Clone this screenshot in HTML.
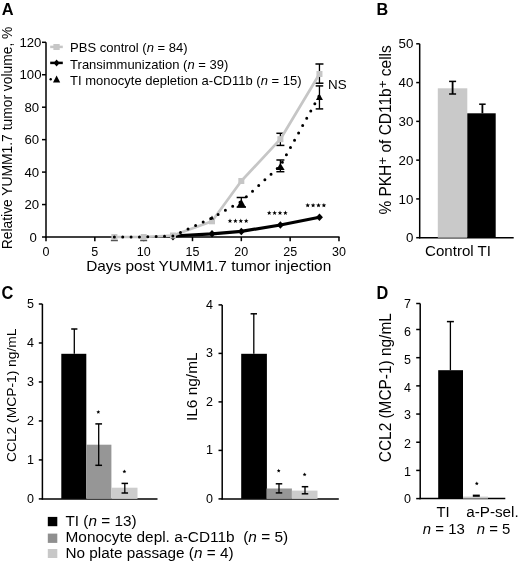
<!DOCTYPE html>
<html><head><meta charset="utf-8"><style>
html,body{margin:0;padding:0;background:#fff;}
svg{display:block;will-change:transform;}
text{font-family:"Liberation Sans", sans-serif;}
</style></head><body>
<svg width="520" height="562" viewBox="0 0 520 562">
<rect width="520" height="562" fill="#fff"/>
<text transform="translate(1.70 15.10) scale(1 1.06)" font-size="16.4" font-weight="bold">A</text>
<line x1="46.00" y1="42.30" x2="46.00" y2="237.65" stroke="#000" stroke-width="1.5" />
<line x1="45.35" y1="237.00" x2="339.55" y2="237.00" stroke="#000" stroke-width="1.5" />
<line x1="42.00" y1="237.00" x2="46.00" y2="237.00" stroke="#000" stroke-width="1.5" />
<text x="36.80" y="241.70" font-size="13.2" text-anchor="end">0</text>
<line x1="42.00" y1="204.55" x2="46.00" y2="204.55" stroke="#000" stroke-width="1.5" />
<text x="39.20" y="209.25" font-size="13.2" text-anchor="end">20</text>
<line x1="42.00" y1="172.10" x2="46.00" y2="172.10" stroke="#000" stroke-width="1.5" />
<text x="39.20" y="176.80" font-size="13.2" text-anchor="end">40</text>
<line x1="42.00" y1="139.65" x2="46.00" y2="139.65" stroke="#000" stroke-width="1.5" />
<text x="39.20" y="144.35" font-size="13.2" text-anchor="end">60</text>
<line x1="42.00" y1="107.20" x2="46.00" y2="107.20" stroke="#000" stroke-width="1.5" />
<text x="39.20" y="111.90" font-size="13.2" text-anchor="end">80</text>
<line x1="42.00" y1="74.75" x2="46.00" y2="74.75" stroke="#000" stroke-width="1.5" />
<text x="41.50" y="79.45" font-size="13.2" text-anchor="end">100</text>
<line x1="42.00" y1="42.30" x2="46.00" y2="42.30" stroke="#000" stroke-width="1.5" />
<text x="41.40" y="47.00" font-size="13.2" text-anchor="end">120</text>
<line x1="46.00" y1="237.00" x2="46.00" y2="241.20" stroke="#000" stroke-width="1.5" />
<text x="46.00" y="256.10" font-size="12.5" text-anchor="middle">0</text>
<line x1="94.83" y1="237.00" x2="94.83" y2="241.20" stroke="#000" stroke-width="1.5" />
<text x="94.83" y="256.10" font-size="12.5" text-anchor="middle">5</text>
<line x1="143.66" y1="237.00" x2="143.66" y2="241.20" stroke="#000" stroke-width="1.5" />
<text x="143.66" y="256.10" font-size="12.5" text-anchor="middle">10</text>
<line x1="192.49" y1="237.00" x2="192.49" y2="241.20" stroke="#000" stroke-width="1.5" />
<text x="192.49" y="256.10" font-size="12.5" text-anchor="middle">15</text>
<line x1="241.32" y1="237.00" x2="241.32" y2="241.20" stroke="#000" stroke-width="1.5" />
<text x="241.32" y="256.10" font-size="12.5" text-anchor="middle">20</text>
<line x1="290.15" y1="237.00" x2="290.15" y2="241.20" stroke="#000" stroke-width="1.5" />
<text x="290.15" y="256.10" font-size="12.5" text-anchor="middle">25</text>
<line x1="338.98" y1="237.00" x2="338.98" y2="241.20" stroke="#000" stroke-width="1.5" />
<text x="338.98" y="256.10" font-size="12.5" text-anchor="middle">30</text>
<text x="86.20" y="271.30" font-size="15" textLength="245.00" lengthAdjust="spacingAndGlyphs">Days post YUMM1.7 tumor injection</text>
<text x="11.90" y="249.20" font-size="14" textLength="222.60" lengthAdjust="spacingAndGlyphs" transform="rotate(-90 11.90 249.20)">Relative YUMM1.7 tumor volume, %</text>
<polyline points="172.96,236.00 212.02,233.80 241.32,231.40 280.38,225.00 319.45,217.30" fill="none" stroke="#000" stroke-width="3.2" stroke-linejoin="round"/>
<polygon points="212.02,230.05 215.52,233.80 212.02,237.55 208.52,233.80" fill="#000"/>
<polygon points="241.32,227.65 244.82,231.40 241.32,235.15 237.82,231.40" fill="#000"/>
<polygon points="280.38,221.25 283.88,225.00 280.38,228.75 276.88,225.00" fill="#000"/>
<polygon points="319.45,213.55 322.95,217.30 319.45,221.05 315.95,217.30" fill="#000"/>
<polygon points="172.96,233.05 176.46,236.80 172.96,240.55 169.46,236.80" fill="#000"/>
<line x1="114.36" y1="237.00" x2="114.36" y2="240.50" stroke="#555" stroke-width="1.3" />
<line x1="110.86" y1="240.50" x2="117.86" y2="240.50" stroke="#555" stroke-width="1.5" />
<line x1="143.66" y1="237.00" x2="143.66" y2="240.50" stroke="#555" stroke-width="1.3" />
<line x1="140.16" y1="240.50" x2="147.16" y2="240.50" stroke="#555" stroke-width="1.5" />
<line x1="280.38" y1="133.30" x2="280.38" y2="145.40" stroke="#000" stroke-width="1.3" />
<line x1="276.38" y1="133.30" x2="284.38" y2="133.30" stroke="#000" stroke-width="1.5" />
<line x1="276.38" y1="145.40" x2="284.38" y2="145.40" stroke="#000" stroke-width="1.5" />
<line x1="319.45" y1="64.00" x2="319.45" y2="83.20" stroke="#000" stroke-width="1.3" />
<line x1="315.45" y1="64.00" x2="323.45" y2="64.00" stroke="#000" stroke-width="1.5" />
<line x1="315.45" y1="83.20" x2="323.45" y2="83.20" stroke="#000" stroke-width="1.5" />
<polyline points="114.36,237.00 143.66,237.00 172.96,235.50 212.02,221.30 241.32,181.00 280.38,139.20 319.45,74.00" fill="none" stroke="#c6c6c6" stroke-width="2.7" stroke-linejoin="round"/>
<rect x="111.36" y="234.00" width="6.00" height="6.00" fill="#c6c6c6"/>
<rect x="140.66" y="234.00" width="6.00" height="6.00" fill="#c6c6c6"/>
<rect x="169.96" y="232.50" width="6.00" height="6.00" fill="#c6c6c6"/>
<rect x="209.02" y="218.30" width="6.00" height="6.00" fill="#c6c6c6"/>
<rect x="238.32" y="178.00" width="6.00" height="6.00" fill="#c6c6c6"/>
<rect x="277.38" y="136.20" width="6.00" height="6.00" fill="#c6c6c6"/>
<rect x="316.45" y="71.00" width="6.00" height="6.00" fill="#c6c6c6"/>
<polyline points="114.36,237.00 143.66,237.00 172.96,236.00 212.02,217.80 241.32,201.40 280.38,165.70 319.45,95.40" fill="none" stroke="#000" stroke-width="3" stroke-linecap="round" stroke-dasharray="0 8.36"/>
<polygon points="212.02,215.50 214.02,219.50 210.02,219.50" fill="#000"/>
<line x1="241.32" y1="197.50" x2="241.32" y2="207.00" stroke="#000" stroke-width="1.3" />
<line x1="236.67" y1="197.50" x2="245.97" y2="197.50" stroke="#000" stroke-width="1.5" />
<line x1="236.67" y1="207.00" x2="245.97" y2="207.00" stroke="#000" stroke-width="1.5" />
<polygon points="241.32,198.90 245.97,207.50 236.67,207.50" fill="#000"/>
<line x1="280.38" y1="160.00" x2="280.38" y2="171.70" stroke="#000" stroke-width="1.3" />
<line x1="276.38" y1="160.00" x2="284.38" y2="160.00" stroke="#000" stroke-width="1.5" />
<line x1="276.38" y1="171.70" x2="284.38" y2="171.70" stroke="#000" stroke-width="1.5" />
<polygon points="280.38,162.90 284.63,169.90 276.13,169.90" fill="#000"/>
<line x1="319.45" y1="85.90" x2="319.45" y2="108.90" stroke="#000" stroke-width="1.3" />
<line x1="315.70" y1="85.90" x2="323.20" y2="85.90" stroke="#000" stroke-width="1.5" />
<line x1="315.70" y1="108.90" x2="323.20" y2="108.90" stroke="#000" stroke-width="1.5" />
<polygon points="319.45,93.70 322.95,99.90 315.95,99.90" fill="#000"/>
<text x="328.00" y="88.60" font-size="12.5" textLength="18.60" lengthAdjust="spacingAndGlyphs">NS</text>
<polygon points="230.00,218.60 230.63,220.13 232.28,220.26 231.03,221.33 231.41,222.94 230.00,222.08 228.59,222.94 228.97,221.33 227.72,220.26 229.37,220.13" fill="#000"/>
<polygon points="235.40,218.60 236.03,220.13 237.68,220.26 236.43,221.33 236.81,222.94 235.40,222.08 233.99,222.94 234.37,221.33 233.12,220.26 234.77,220.13" fill="#000"/>
<polygon points="240.80,218.60 241.43,220.13 243.08,220.26 241.83,221.33 242.21,222.94 240.80,222.08 239.39,222.94 239.77,221.33 238.52,220.26 240.17,220.13" fill="#000"/>
<polygon points="246.20,218.60 246.83,220.13 248.48,220.26 247.23,221.33 247.61,222.94 246.20,222.08 244.79,222.94 245.17,221.33 243.92,220.26 245.57,220.13" fill="#000"/>
<polygon points="269.20,210.60 269.83,212.13 271.48,212.26 270.23,213.33 270.61,214.94 269.20,214.08 267.79,214.94 268.17,213.33 266.92,212.26 268.57,212.13" fill="#000"/>
<polygon points="274.60,210.60 275.23,212.13 276.88,212.26 275.63,213.33 276.01,214.94 274.60,214.08 273.19,214.94 273.57,213.33 272.32,212.26 273.97,212.13" fill="#000"/>
<polygon points="280.00,210.60 280.63,212.13 282.28,212.26 281.03,213.33 281.41,214.94 280.00,214.08 278.59,214.94 278.97,213.33 277.72,212.26 279.37,212.13" fill="#000"/>
<polygon points="285.40,210.60 286.03,212.13 287.68,212.26 286.43,213.33 286.81,214.94 285.40,214.08 283.99,214.94 284.37,213.33 283.12,212.26 284.77,212.13" fill="#000"/>
<polygon points="307.70,202.90 308.33,204.43 309.98,204.56 308.73,205.63 309.11,207.24 307.70,206.38 306.29,207.24 306.67,205.63 305.42,204.56 307.07,204.43" fill="#000"/>
<polygon points="313.10,202.90 313.73,204.43 315.38,204.56 314.13,205.63 314.51,207.24 313.10,206.38 311.69,207.24 312.07,205.63 310.82,204.56 312.47,204.43" fill="#000"/>
<polygon points="318.50,202.90 319.13,204.43 320.78,204.56 319.53,205.63 319.91,207.24 318.50,206.38 317.09,207.24 317.47,205.63 316.22,204.56 317.87,204.43" fill="#000"/>
<polygon points="323.90,202.90 324.53,204.43 326.18,204.56 324.93,205.63 325.31,207.24 323.90,206.38 322.49,207.24 322.87,205.63 321.62,204.56 323.27,204.43" fill="#000"/>
<line x1="50.20" y1="46.90" x2="62.80" y2="46.90" stroke="#c6c6c6" stroke-width="2.5" />
<rect x="53.40" y="44.00" width="6.30" height="6.00" fill="#c6c6c6"/>
<line x1="50.20" y1="62.90" x2="62.80" y2="62.90" stroke="#000" stroke-width="2.5" />
<polygon points="56.60,59.60 59.60,63.00 56.60,66.40 53.60,63.00" fill="#000"/>
<circle cx="50.7" cy="79.2" r="1.2" fill="#000"/>
<polygon points="56.60,75.40 60.20,82.40 53.00,82.40" fill="#000"/>
<text x="70.10" y="52.10" font-size="13">PBS control (<tspan font-style="italic">n</tspan> = 84)</text>
<text x="70.10" y="68.70" font-size="13">Transimmunization (<tspan font-style="italic">n</tspan> = 39)</text>
<text x="70.10" y="84.60" font-size="13">TI monocyte depletion a-CD11b (<tspan font-style="italic">n</tspan> = 15)</text>
<text transform="translate(376.50 15.30) scale(1 1.06)" font-size="16.2" font-weight="bold">B</text>
<line x1="419.70" y1="43.80" x2="419.70" y2="238.35" stroke="#000" stroke-width="1.5" />
<line x1="419.05" y1="237.70" x2="513.70" y2="237.70" stroke="#000" stroke-width="1.5" />
<line x1="416.20" y1="237.70" x2="419.70" y2="237.70" stroke="#000" stroke-width="1.5" />
<text x="413.40" y="242.30" font-size="13.3" text-anchor="end">0</text>
<line x1="416.20" y1="198.92" x2="419.70" y2="198.92" stroke="#000" stroke-width="1.5" />
<text x="413.40" y="203.52" font-size="13.3" text-anchor="end">10</text>
<line x1="416.20" y1="160.14" x2="419.70" y2="160.14" stroke="#000" stroke-width="1.5" />
<text x="413.40" y="164.74" font-size="13.3" text-anchor="end">20</text>
<line x1="416.20" y1="121.36" x2="419.70" y2="121.36" stroke="#000" stroke-width="1.5" />
<text x="413.40" y="125.96" font-size="13.3" text-anchor="end">30</text>
<line x1="416.20" y1="82.58" x2="419.70" y2="82.58" stroke="#000" stroke-width="1.5" />
<text x="413.40" y="87.18" font-size="13.3" text-anchor="end">40</text>
<line x1="416.20" y1="43.80" x2="419.70" y2="43.80" stroke="#000" stroke-width="1.5" />
<text x="413.40" y="48.40" font-size="13.3" text-anchor="end">50</text>
<rect x="437.80" y="88.30" width="29.50" height="149.40" fill="#c9c9c9"/>
<rect x="467.30" y="113.30" width="28.40" height="124.40" fill="#000"/>
<line x1="452.60" y1="81.40" x2="452.60" y2="94.00" stroke="#000" stroke-width="1.8" />
<line x1="449.10" y1="81.40" x2="456.10" y2="81.40" stroke="#000" stroke-width="1.5" />
<line x1="449.10" y1="94.00" x2="456.10" y2="94.00" stroke="#000" stroke-width="1.5" />
<line x1="482.40" y1="104.20" x2="482.40" y2="113.30" stroke="#000" stroke-width="1.8" />
<line x1="479.15" y1="104.20" x2="485.65" y2="104.20" stroke="#000" stroke-width="1.5" />
<text x="425.00" y="255.70" font-size="14" textLength="66.00" lengthAdjust="spacingAndGlyphs">Control TI</text>
<text x="391.0" y="214.6" font-size="15.6" textLength="169.4" lengthAdjust="spacingAndGlyphs" transform="rotate(-90 391.0 214.6)">% PKH<tspan font-size="13.5" dy="-3.8">+</tspan><tspan dy="3.8"> of CD11b</tspan><tspan font-size="13.5" dy="-3.8">+</tspan><tspan dy="3.8"> cells</tspan></text>
<text transform="translate(1.60 299.10) scale(1 1.1)" font-size="16.4" font-weight="bold">C</text>
<line x1="42.40" y1="304.00" x2="42.40" y2="499.55" stroke="#000" stroke-width="1.5" />
<line x1="41.75" y1="498.90" x2="157.50" y2="498.90" stroke="#000" stroke-width="1.5" />
<line x1="38.80" y1="498.90" x2="42.40" y2="498.90" stroke="#000" stroke-width="1.5" />
<text x="34.00" y="503.30" font-size="12.5" text-anchor="end">0</text>
<line x1="38.80" y1="459.92" x2="42.40" y2="459.92" stroke="#000" stroke-width="1.5" />
<text x="34.00" y="464.32" font-size="12.5" text-anchor="end">1</text>
<line x1="38.80" y1="420.94" x2="42.40" y2="420.94" stroke="#000" stroke-width="1.5" />
<text x="34.00" y="425.34" font-size="12.5" text-anchor="end">2</text>
<line x1="38.80" y1="381.96" x2="42.40" y2="381.96" stroke="#000" stroke-width="1.5" />
<text x="34.00" y="386.36" font-size="12.5" text-anchor="end">3</text>
<line x1="38.80" y1="342.98" x2="42.40" y2="342.98" stroke="#000" stroke-width="1.5" />
<text x="34.00" y="347.38" font-size="12.5" text-anchor="end">4</text>
<line x1="38.80" y1="304.00" x2="42.40" y2="304.00" stroke="#000" stroke-width="1.5" />
<text x="34.00" y="308.40" font-size="12.5" text-anchor="end">5</text>
<rect x="61.30" y="353.80" width="25.00" height="145.10" fill="#000"/>
<rect x="86.30" y="444.70" width="25.10" height="54.20" fill="#969696"/>
<rect x="111.40" y="487.70" width="26.10" height="11.20" fill="#cccccc"/>
<line x1="74.30" y1="329.00" x2="74.30" y2="353.80" stroke="#000" stroke-width="1.3" />
<line x1="71.20" y1="329.00" x2="77.40" y2="329.00" stroke="#000" stroke-width="1.5" />
<line x1="98.70" y1="423.90" x2="98.70" y2="465.30" stroke="#000" stroke-width="1.3" />
<line x1="95.35" y1="423.90" x2="102.05" y2="423.90" stroke="#000" stroke-width="1.5" />
<line x1="95.35" y1="465.30" x2="102.05" y2="465.30" stroke="#000" stroke-width="1.5" />
<line x1="124.80" y1="483.40" x2="124.80" y2="493.00" stroke="#000" stroke-width="1.3" />
<line x1="121.55" y1="483.40" x2="128.05" y2="483.40" stroke="#000" stroke-width="1.5" />
<line x1="121.55" y1="493.00" x2="128.05" y2="493.00" stroke="#000" stroke-width="1.5" />
<polygon points="98.30,410.10 98.83,411.37 100.20,411.48 99.16,412.38 99.48,413.72 98.30,413.00 97.12,413.72 97.44,412.38 96.40,411.48 97.77,411.37" fill="#000"/>
<polygon points="124.40,469.60 124.93,470.87 126.30,470.98 125.26,471.88 125.58,473.22 124.40,472.50 123.22,473.22 123.54,471.88 122.50,470.98 123.87,470.87" fill="#000"/>
<text x="16.20" y="462.00" font-size="13.5" textLength="133.50" lengthAdjust="spacingAndGlyphs" transform="rotate(-90 16.20 462.00)">CCL2 (MCP-1) ng/mL</text>
<line x1="222.20" y1="304.90" x2="222.20" y2="499.55" stroke="#000" stroke-width="1.5" />
<line x1="221.55" y1="498.90" x2="338.80" y2="498.90" stroke="#000" stroke-width="1.5" />
<line x1="218.50" y1="498.90" x2="222.20" y2="498.90" stroke="#000" stroke-width="1.5" />
<text x="213.00" y="502.80" font-size="12.5" text-anchor="end">0</text>
<line x1="218.50" y1="450.40" x2="222.20" y2="450.40" stroke="#000" stroke-width="1.5" />
<text x="213.00" y="454.30" font-size="12.5" text-anchor="end">1</text>
<line x1="218.50" y1="401.90" x2="222.20" y2="401.90" stroke="#000" stroke-width="1.5" />
<text x="213.00" y="405.80" font-size="12.5" text-anchor="end">2</text>
<line x1="218.50" y1="353.40" x2="222.20" y2="353.40" stroke="#000" stroke-width="1.5" />
<text x="213.00" y="357.30" font-size="12.5" text-anchor="end">3</text>
<line x1="218.50" y1="304.90" x2="222.20" y2="304.90" stroke="#000" stroke-width="1.5" />
<text x="213.00" y="308.80" font-size="12.5" text-anchor="end">4</text>
<rect x="241.20" y="353.80" width="25.70" height="145.10" fill="#000"/>
<rect x="266.50" y="488.50" width="25.40" height="10.40" fill="#969696"/>
<rect x="291.90" y="490.60" width="25.60" height="8.30" fill="#cccccc"/>
<line x1="253.80" y1="313.80" x2="253.80" y2="353.80" stroke="#000" stroke-width="1.3" />
<line x1="250.60" y1="313.80" x2="257.00" y2="313.80" stroke="#000" stroke-width="1.5" />
<line x1="279.00" y1="483.80" x2="279.00" y2="492.90" stroke="#000" stroke-width="1.3" />
<line x1="275.75" y1="483.80" x2="282.25" y2="483.80" stroke="#000" stroke-width="1.5" />
<line x1="275.75" y1="492.90" x2="282.25" y2="492.90" stroke="#000" stroke-width="1.5" />
<line x1="305.00" y1="486.70" x2="305.00" y2="493.80" stroke="#000" stroke-width="1.3" />
<line x1="301.75" y1="486.70" x2="308.25" y2="486.70" stroke="#000" stroke-width="1.5" />
<line x1="301.75" y1="493.80" x2="308.25" y2="493.80" stroke="#000" stroke-width="1.5" />
<polygon points="278.70,468.80 279.23,470.07 280.60,470.18 279.56,471.08 279.88,472.42 278.70,471.70 277.52,472.42 277.84,471.08 276.80,470.18 278.17,470.07" fill="#000"/>
<polygon points="304.60,472.60 305.13,473.87 306.50,473.98 305.46,474.88 305.78,476.22 304.60,475.50 303.42,476.22 303.74,474.88 302.70,473.98 304.07,473.87" fill="#000"/>
<text x="197.40" y="421.00" font-size="15" textLength="68.60" lengthAdjust="spacingAndGlyphs" transform="rotate(-90 197.40 421.00)">IL6 ng/mL</text>
<rect x="47.80" y="516.90" width="9.50" height="9.30" fill="#000"/>
<rect x="47.80" y="533.60" width="9.50" height="9.30" fill="#8f8f8f"/>
<rect x="47.80" y="549.00" width="9.50" height="9.00" fill="#c8c8c8"/>
<text x="65.50" y="526.00" font-size="14" textLength="71.00" lengthAdjust="spacingAndGlyphs">TI (<tspan font-style="italic">n</tspan> = 13)</text>
<text x="65.50" y="542.00" font-size="14" textLength="222.60" lengthAdjust="spacingAndGlyphs">Monocyte depl. a-CD11b&#160; (<tspan font-style="italic">n</tspan> = 5)</text>
<text x="65.50" y="557.80" font-size="14" textLength="168.00" lengthAdjust="spacingAndGlyphs">No plate passage (<tspan font-style="italic">n</tspan> = 4)</text>
<text transform="translate(376.50 299.00) scale(1 1.1)" font-size="16.3" font-weight="bold">D</text>
<line x1="420.20" y1="303.50" x2="420.20" y2="499.25" stroke="#000" stroke-width="1.5" />
<line x1="419.55" y1="498.60" x2="505.30" y2="498.60" stroke="#000" stroke-width="1.5" />
<line x1="416.20" y1="498.60" x2="420.20" y2="498.60" stroke="#000" stroke-width="1.5" />
<text x="411.00" y="503.00" font-size="12.5" text-anchor="end">0</text>
<line x1="416.20" y1="470.42" x2="420.20" y2="470.42" stroke="#000" stroke-width="1.5" />
<text x="411.00" y="476.02" font-size="12.5" text-anchor="end">1</text>
<line x1="416.20" y1="442.23" x2="420.20" y2="442.23" stroke="#000" stroke-width="1.5" />
<text x="411.00" y="447.83" font-size="12.5" text-anchor="end">2</text>
<line x1="416.20" y1="414.05" x2="420.20" y2="414.05" stroke="#000" stroke-width="1.5" />
<text x="411.00" y="419.45" font-size="12.5" text-anchor="end">3</text>
<line x1="416.20" y1="385.87" x2="420.20" y2="385.87" stroke="#000" stroke-width="1.5" />
<text x="411.00" y="391.97" font-size="12.5" text-anchor="end">4</text>
<line x1="416.20" y1="357.68" x2="420.20" y2="357.68" stroke="#000" stroke-width="1.5" />
<text x="411.00" y="363.78" font-size="12.5" text-anchor="end">5</text>
<line x1="416.20" y1="329.50" x2="420.20" y2="329.50" stroke="#000" stroke-width="1.5" />
<text x="411.00" y="336.10" font-size="12.5" text-anchor="end">6</text>
<line x1="416.20" y1="303.50" x2="420.20" y2="303.50" stroke="#000" stroke-width="1.5" />
<text x="411.00" y="308.20" font-size="12.5" text-anchor="end">7</text>
<rect x="438.20" y="370.20" width="24.80" height="128.40" fill="#000"/>
<rect x="463.00" y="496.60" width="25.00" height="2.00" fill="#cccccc"/>
<line x1="450.40" y1="321.60" x2="450.40" y2="370.20" stroke="#000" stroke-width="1.3" />
<line x1="446.90" y1="321.60" x2="453.90" y2="321.60" stroke="#000" stroke-width="1.5" />
<rect x="472.80" y="494.60" width="7.00" height="2.20" fill="#000"/>
<polygon points="476.80,481.60 477.33,482.87 478.70,482.98 477.66,483.88 477.98,485.22 476.80,484.50 475.62,485.22 475.94,483.88 474.90,482.98 476.27,482.87" fill="#000"/>
<text x="391.00" y="462.20" font-size="16" textLength="149.00" lengthAdjust="spacingAndGlyphs" transform="rotate(-90 391.00 462.20)">CCL2 (MCP-1) ng/mL</text>
<text x="436.50" y="517.30" font-size="14" textLength="13.20" lengthAdjust="spacingAndGlyphs">TI</text>
<text x="466.20" y="517.30" font-size="14" textLength="52.50" lengthAdjust="spacingAndGlyphs">a-P-sel.</text>
<text x="422.80" y="533.50" font-size="14" textLength="42.00" lengthAdjust="spacingAndGlyphs"><tspan font-style="italic">n</tspan> = 13</text>
<text x="476.80" y="533.50" font-size="14" textLength="33.60" lengthAdjust="spacingAndGlyphs"><tspan font-style="italic">n</tspan> = 5</text>
</svg>
</body></html>
